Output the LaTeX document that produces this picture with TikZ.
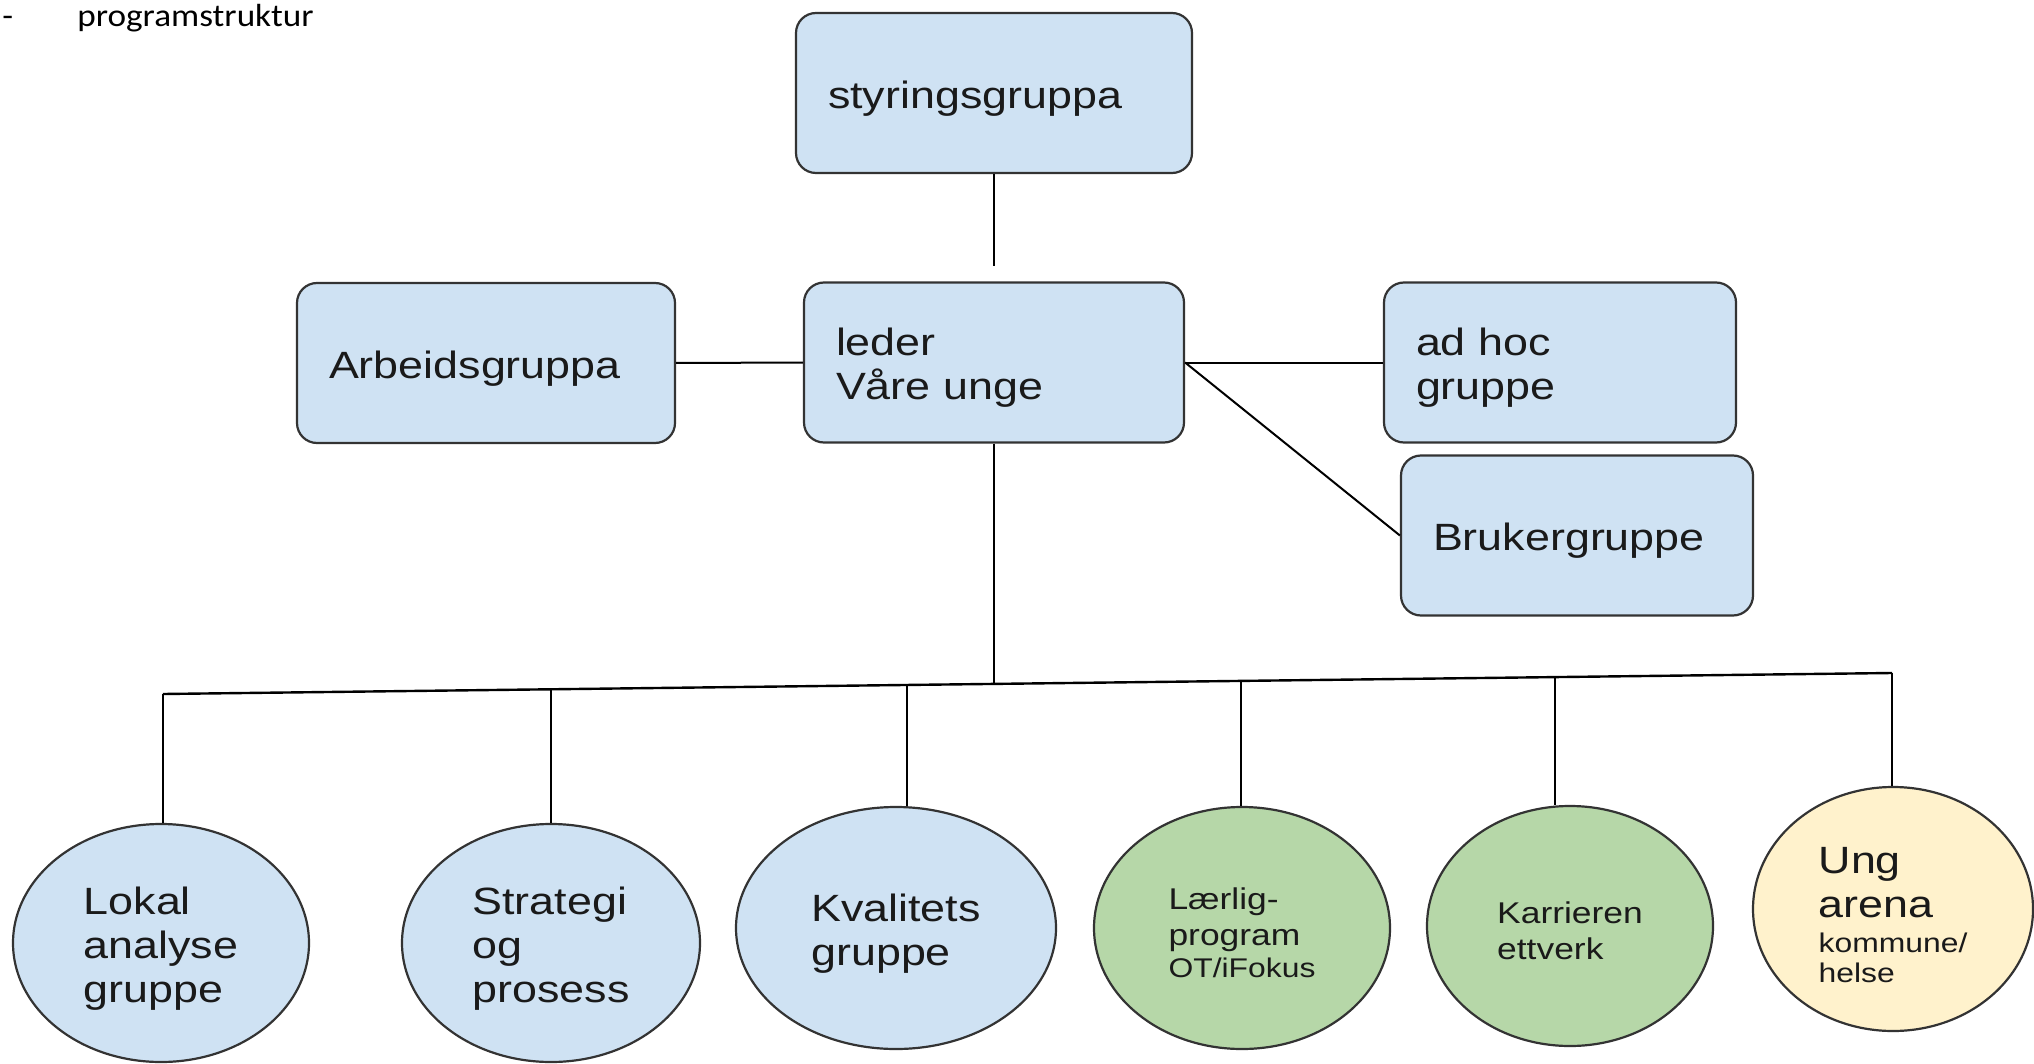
\documentclass[tikz,border=0pt]{standalone}
\usepackage{fontspec}
\newfontfamily\diafont[FakeStretch=1.18]{Liberation Sans}
\newfontfamily\titlefont[FakeStretch=1.1]{Carlito}
\usetikzlibrary{shapes.geometric}
\definecolor{boxblue}{HTML}{CFE2F3}
\definecolor{ovalgreen}{HTML}{B6D7A8}
\definecolor{ovalyellow}{HTML}{FFF2CC}
\definecolor{edgegray}{HTML}{333333}
\definecolor{txtdark}{HTML}{1A1A1A}
\newcommand{\bigtxt}{\diafont\fontsize{19}{22}\selectfont}
\newcommand{\midtxt}{\diafont\fontsize{15}{18}\selectfont}
\newcommand{\smalltxt}{\diafont\fontsize{13.5}{16}\selectfont}
\newcommand{\padtop}[1][19pt]{\rule{0pt}{#1}}

\tikzset{
  grpbox/.style = {draw=edgegray, fill=boxblue, line width=1.1pt, rounded corners=10pt,
    minimum height=80pt, inner xsep=16pt, inner ysep=0pt, align=left, text width=#1,
    font=\bigtxt, text=txtdark},
  grpoval/.style = {ellipse, draw=edgegray, fill=#1, line width=1.1pt, inner sep=0pt,
    align=left, font=\bigtxt, text=txtdark},
  link/.style = {draw=black, line width=1pt}
}

\begin{document}
\begin{tikzpicture}[x=0.5pt, y=-0.5pt]
\useasboundingbox (0,0) rectangle (2034,1064);
\node[anchor=base west, inner sep=0pt, font=\titlefont\fontsize{16}{19}\selectfont] (dash) at (2,27) {-};
\node[anchor=base west, inner sep=0pt, font=\titlefont\fontsize{16}{19}\selectfont] (title) at (77,27) {programstruktur};

\node[grpbox=166pt] (top) at (994,93) {\padtop styringsgruppa};
\node[grpbox=158pt] (lead) at (994,362.5) {\padtop leder\\Våre unge};
\node[grpbox=157pt] (arb) at (486,363) {\padtop Arbeidsgruppa};
\node[grpbox=144pt] (adhoc) at (1560,362.5) {\padtop ad hoc\\gruppe};
\node[grpbox=144pt] (bruk) at (1577,535.5) {\padtop Brukergruppe};

\node[grpoval=boxblue, minimum width=148pt, minimum height=119pt] (lok) at (161,943) {\padtop Lokal\\analyse\\gruppe};
\node[grpoval=boxblue, minimum width=149pt, minimum height=119pt] (strat) at (551,943) {\padtop Strategi\\og\\prosess};
\node[grpoval=boxblue, minimum width=160pt, minimum height=121pt] (kval) at (896,928) {\padtop Kvalitets\\gruppe};
\node[grpoval=ovalgreen, minimum width=148pt, minimum height=121pt, font=\midtxt] (laer) at (1242,928) {\padtop[16pt]Lærlig-\\program\\[-2pt]{\smalltxt OT/iFokus}};
\node[grpoval=ovalgreen, minimum width=143pt, minimum height=120pt, font=\midtxt] (karr) at (1570,926) {\padtop[16pt]Karrieren\\ettverk};
\node[grpoval=ovalyellow, minimum width=140pt, minimum height=122pt] (ung) at (1893,909) {\padtop Ung\\arena\\[-4.5pt]{\smalltxt kommune/}\\[-7pt]{\smalltxt helse}};

\coordinate (barL) at (163,694);
\coordinate (barR) at (1892,673);
\coordinate (d0) at (994,683.9);
\coordinate (d2) at (551,689.3);
\coordinate (d3) at (907,685);
\coordinate (d4) at (1241,680.9);
\coordinate (d5) at (1555,677.1);

\draw[link, shorten >=7.5pt] (top) -- (lead);
\draw[link] (arb) -- (lead);
\draw[link] (lead) -- (adhoc);
\draw[link] (lead.east) -- (bruk.west);
\draw[link] (lead) -- (d0);
\draw[link, line width=1.2pt] (barL) -- (barR);
\draw[link] (barL) -- (barL |- lok.north);
\draw[link] (d2) -- (d2 |- strat.north);
\draw[link] (d3) -- (d3 |- kval.north);
\draw[link] (d4) -- (d4 |- laer.north);
\draw[link] (d5) -- (d5 |- karr.north);
\draw[link] (barR) -- (barR |- ung.north);
\end{tikzpicture}
\end{document}
